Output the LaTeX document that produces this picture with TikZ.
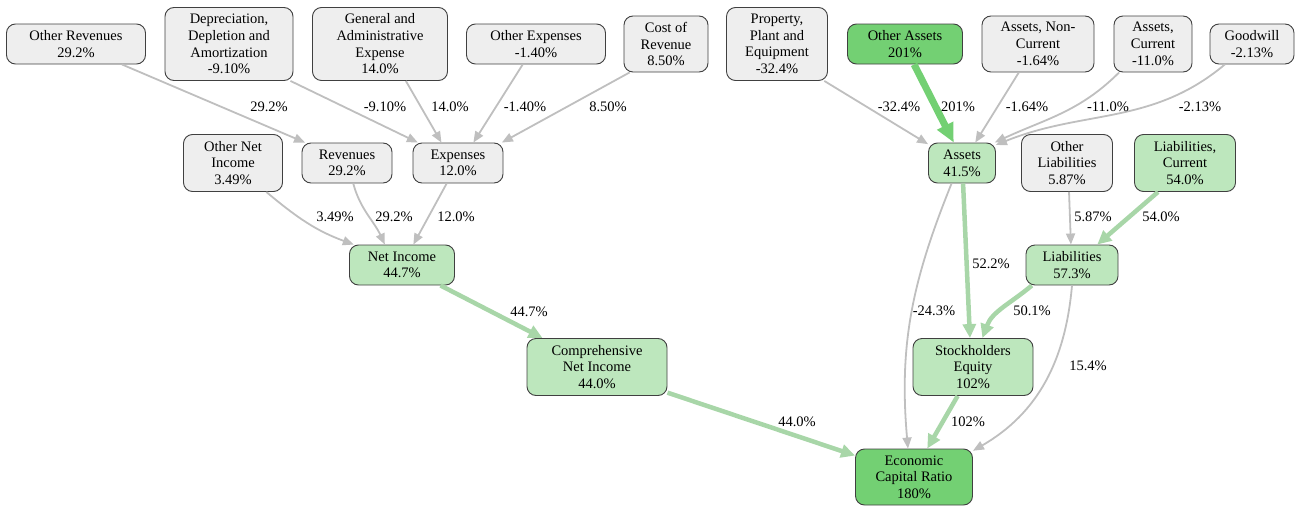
\documentclass[tikz,border=0pt]{standalone}
\usepackage{fontspec}
\setmainfont{Liberation Serif}
\usetikzlibrary{arrows.meta}

\definecolor{boxgray}{HTML}{EEEEEE}
\definecolor{boxlight}{HTML}{BDE7BD}
\definecolor{boxdark}{HTML}{73D073}
\definecolor{boxline}{HTML}{404040}
\definecolor{edgegray}{HTML}{BFBFBF}
\definecolor{edgelight}{HTML}{A8D6A8}

\begin{document}
\begin{tikzpicture}[x=1pt, y=-1pt,
    box/.style={draw=boxline, line width=0.9pt, rounded corners=9pt, align=center,
        inner sep=0pt, font=\fontsize{14.5}{16.7}\selectfont},
    sz/.style 2 args={minimum width=#1pt, minimum height=#2pt},
    graybox/.style={box, fill=boxgray},
    lightbox/.style={box, fill=boxlight},
    darkbox/.style={box, fill=boxdark},
    lbl/.style={font=\fontsize{14.5}{16.7}\selectfont, inner sep=0pt},
    grayedge/.style={draw=edgegray, line width=1.8pt, -{Triangle[length=11pt,width=9pt]}},
    lightedge/.style={draw=edgelight, line width=4.5pt, -{Triangle[length=14pt,width=13pt]}},
    darkedge/.style={draw=boxdark, line width=7pt, -{Triangle[length=19pt,width=17pt]}}]

    % Fix the page size
    \useasboundingbox (0,0) rectangle (1296,506);

    % Top row of inputs
    \node[graybox, sz={139}{40}] (orev)  at (76,44)   {Other Revenues\\29.2\%};
    \node[graybox, sz={128}{73}] (depr)  at (229,44)  {Depreciation,\\Depletion and\\Amortization\\-9.10\%};
    \node[graybox, sz={135}{73}] (gadm)  at (380,44)  {General and\\Administrative\\Expense\\14.0\%};
    \node[graybox, sz={139}{40}] (oexp)  at (536,44)  {Other Expenses\\-1.40\%};
    \node[graybox, sz={84}{56}]  (crev)  at (666,44)  {Cost of\\Revenue\\8.50\%};
    \node[graybox, sz={101}{73}] (ppe)   at (777,44)  {Property,\\Plant and\\Equipment\\-32.4\%};
    \node[darkbox, sz={115}{40}] (oass)  at (905,44)  {Other Assets\\201\%};
    \node[graybox, sz={112}{56}] (ancur) at (1038,44) {Assets, Non-\\Current\\-1.64\%};
    \node[graybox, sz={78}{56}]  (acur)  at (1153,44) {Assets,\\Current\\-11.0\%};
    \node[graybox, sz={84}{40}]  (gwill) at (1252,44) {Goodwill\\-2.13\%};

    % Second row
    \node[graybox, sz={99}{57}]   (oni)   at (233,163)  {Other Net\\Income\\3.49\%};
    \node[graybox, sz={90}{40}]   (rev)   at (347,163)  {Revenues\\29.2\%};
    \node[graybox, sz={90}{40}]   (exp)   at (458,163)  {Expenses\\12.0\%};
    \node[lightbox, sz={67}{40}]  (ass)   at (962,163)  {Assets\\41.5\%};
    \node[graybox, sz={91}{57}]   (oliab) at (1067,163) {Other\\Liabilities\\5.87\%};
    \node[lightbox, sz={101}{57}] (lcur)  at (1185,163) {Liabilities,\\Current\\54.0\%};

    % Lower rows
    \node[lightbox, sz={105}{40}] (ni)   at (402,265)  {Net Income\\44.7\%};
    \node[lightbox, sz={92}{40}]  (liab) at (1072,265) {Liabilities\\57.3\%};
    \node[lightbox, sz={140}{57}] (cni)  at (597,367)  {Comprehensive\\Net Income\\44.0\%};
    \node[lightbox, sz={120}{57}] (se)   at (973,367)  {Stockholders\\Equity\\102\%};
    \node[darkbox, sz={117}{56}]  (ecr)  at (914,477)  {Economic\\Capital Ratio\\180\%};

    % Edges into Revenues and Expenses
    \draw[grayedge] (orev.-24) -- (rev.154);
    \draw[grayedge] (depr.-31) -- (exp.153);
    \draw[grayedge] (gadm.-55) -- (exp.129);
    \draw[grayedge] (oexp.-123) -- (exp.53);
    \draw[grayedge] (crev.-142) -- (exp.25);

    % Edges into Assets
    \draw[grayedge] (ppe.-38) -- (ass.151);
    \draw[darkedge] (oass.-66) -- (ass.112);
    \draw[grayedge] (ancur.-124) -- (ass.57);
    \draw[grayedge] (acur.-140) to[out=-135, in=25] (ass.32);
    \draw[grayedge] (gwill.-143) to[out=-140, in=22] (ass.28);

    % Edges into Net Income and Liabilities
    \draw[grayedge] (oni.-41) to[out=-40, in=160] (ni.157);
    \draw[grayedge] (rev.-73) to[out=-75, in=115] (ni.130);
    \draw[grayedge] (exp.-119) -- (ni.61);
    \draw[grayedge] (oliab.-86) -- (liab.93);
    \draw[lightedge] (lcur.-133) -- (liab.39);

    % Edges down to the ratio
    \draw[lightedge] (ni.-28) -- (cni.152);
    \draw[lightedge] (cni.-20) -- (ecr.160);
    \draw[grayedge] (ass.-117) to[out=-112, in=95] (ecr.102);
    \draw[lightedge] (ass.-87) -- (se.96);
    \draw[lightedge] (liab.-153) to[out=-140, in=70] (se.72);
    \draw[grayedge] (liab.-90) to[out=-95, in=30] (ecr.24);
    \draw[lightedge] (se.-118) -- (ecr.65);

    % Edge labels
    \node[lbl] (l1)  at (269,107)  {29.2\%};
    \node[lbl] (l2)  at (385,107)  {-9.10\%};
    \node[lbl] (l3)  at (450,107)  {14.0\%};
    \node[lbl] (l4)  at (525,107)  {-1.40\%};
    \node[lbl] (l5)  at (608,107)  {8.50\%};
    \node[lbl] (l6)  at (899,107)  {-32.4\%};
    \node[lbl] (l7)  at (958,107)  {201\%};
    \node[lbl] (l8)  at (1027,107) {-1.64\%};
    \node[lbl] (l9)  at (1108,107) {-11.0\%};
    \node[lbl] (l10) at (1200,107) {-2.13\%};
    \node[lbl] (l11) at (335,217)  {3.49\%};
    \node[lbl] (l12) at (394,217)  {29.2\%};
    \node[lbl] (l13) at (456,217)  {12.0\%};
    \node[lbl] (l14) at (1093,217) {5.87\%};
    \node[lbl] (l15) at (1161,217) {54.0\%};
    \node[lbl] (l16) at (991,264)  {52.2\%};
    \node[lbl] (l17) at (529,312)  {44.7\%};
    \node[lbl] (l18) at (934,311)  {-24.3\%};
    \node[lbl] (l19) at (1032,311) {50.1\%};
    \node[lbl] (l20) at (1088,366) {15.4\%};
    \node[lbl] (l21) at (797,422)  {44.0\%};
    \node[lbl] (l22) at (968,422)  {102\%};

\end{tikzpicture}
\end{document}
